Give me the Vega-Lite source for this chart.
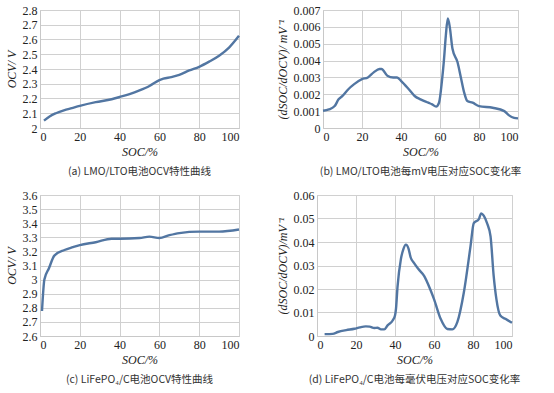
{
  "$schema": "https://vega.github.io/schema/vega-lite/v6.json",
  "background": "white",
  "padding": {"left": 4, "top": 3, "right": 6, "bottom": 4},
  "datasets": {
    "a": [
      {"soc": 2, "v": 2.05}, {"soc": 5, "v": 2.08}, {"soc": 8, "v": 2.1}, {"soc": 12, "v": 2.12},
      {"soc": 16, "v": 2.135}, {"soc": 20, "v": 2.15}, {"soc": 28, "v": 2.175}, {"soc": 36, "v": 2.195},
      {"soc": 40, "v": 2.21}, {"soc": 45, "v": 2.23}, {"soc": 50, "v": 2.255}, {"soc": 55, "v": 2.285},
      {"soc": 60, "v": 2.325}, {"soc": 62, "v": 2.335}, {"soc": 66, "v": 2.345}, {"soc": 70, "v": 2.36},
      {"soc": 75, "v": 2.39}, {"soc": 80, "v": 2.415}, {"soc": 85, "v": 2.45}, {"soc": 90, "v": 2.49},
      {"soc": 95, "v": 2.545}, {"soc": 100, "v": 2.625}
    ],
    "b": [
      {"soc": 0, "r": 0.00102}, {"soc": 3, "r": 0.0011}, {"soc": 6, "r": 0.0013}, {"soc": 8, "r": 0.0017},
      {"soc": 10, "r": 0.0019}, {"soc": 13, "r": 0.0023}, {"soc": 16, "r": 0.0026}, {"soc": 20, "r": 0.0029},
      {"soc": 23, "r": 0.003}, {"soc": 26, "r": 0.0033}, {"soc": 29, "r": 0.0035}, {"soc": 30, "r": 0.0035},
      {"soc": 33, "r": 0.0031}, {"soc": 36, "r": 0.003}, {"soc": 38, "r": 0.003}, {"soc": 40, "r": 0.0028},
      {"soc": 44, "r": 0.0023}, {"soc": 47, "r": 0.0019}, {"soc": 50, "r": 0.0017}, {"soc": 54, "r": 0.0015},
      {"soc": 56, "r": 0.0014}, {"soc": 58, "r": 0.00127}, {"soc": 59.5, "r": 0.0015}, {"soc": 61, "r": 0.0028},
      {"soc": 62, "r": 0.004}, {"soc": 63, "r": 0.0055}, {"soc": 64, "r": 0.0065}, {"soc": 65, "r": 0.006},
      {"soc": 66.4, "r": 0.0047}, {"soc": 69, "r": 0.0039}, {"soc": 70.7, "r": 0.003}, {"soc": 72.4, "r": 0.0021},
      {"soc": 74, "r": 0.0016}, {"soc": 76.7, "r": 0.0015}, {"soc": 80, "r": 0.0013}, {"soc": 87, "r": 0.0012},
      {"soc": 93, "r": 0.001}, {"soc": 95.4, "r": 0.00075}, {"soc": 98, "r": 0.0006}, {"soc": 100, "r": 0.00057}
    ],
    "c": [
      {"soc": 1, "v": 2.777}, {"soc": 2.2, "v": 3.0}, {"soc": 4.5, "v": 3.08}, {"soc": 7.2, "v": 3.17},
      {"soc": 12.3, "v": 3.21}, {"soc": 16.5, "v": 3.23}, {"soc": 20, "v": 3.245}, {"soc": 28, "v": 3.265},
      {"soc": 36, "v": 3.29}, {"soc": 40, "v": 3.29}, {"soc": 50, "v": 3.295}, {"soc": 55, "v": 3.305},
      {"soc": 60, "v": 3.295}, {"soc": 65, "v": 3.315}, {"soc": 70, "v": 3.33}, {"soc": 80, "v": 3.34},
      {"soc": 90, "v": 3.34}, {"soc": 100, "v": 3.355}
    ],
    "d": [
      {"soc": 3.9, "r": 0.0008}, {"soc": 8, "r": 0.0009}, {"soc": 10.7, "r": 0.0017}, {"soc": 15, "r": 0.0025},
      {"soc": 19.2, "r": 0.0031}, {"soc": 22, "r": 0.0037}, {"soc": 25, "r": 0.0041}, {"soc": 27, "r": 0.004},
      {"soc": 29.4, "r": 0.0034}, {"soc": 31, "r": 0.0035}, {"soc": 32.8, "r": 0.0028}, {"soc": 34.5, "r": 0.0028},
      {"soc": 36.2, "r": 0.0045}, {"soc": 38.8, "r": 0.0066}, {"soc": 40, "r": 0.0087}, {"soc": 40.5, "r": 0.0115},
      {"soc": 41.3, "r": 0.021}, {"soc": 43, "r": 0.0326}, {"soc": 44.3, "r": 0.037}, {"soc": 45.6, "r": 0.0389},
      {"soc": 47, "r": 0.037}, {"soc": 48, "r": 0.0335}, {"soc": 49.8, "r": 0.031}, {"soc": 52, "r": 0.0285},
      {"soc": 55, "r": 0.0255}, {"soc": 58, "r": 0.02}, {"soc": 60, "r": 0.0157}, {"soc": 63.4, "r": 0.0073},
      {"soc": 66.8, "r": 0.003}, {"soc": 69.4, "r": 0.0028}, {"soc": 72, "r": 0.006}, {"soc": 75.3, "r": 0.0185},
      {"soc": 78.7, "r": 0.038}, {"soc": 80.4, "r": 0.048}, {"soc": 83, "r": 0.0497}, {"soc": 84.2, "r": 0.0522},
      {"soc": 85.5, "r": 0.0512}, {"soc": 87.2, "r": 0.048}, {"soc": 89, "r": 0.0424}, {"soc": 90.6, "r": 0.0256},
      {"soc": 92, "r": 0.0157}, {"soc": 94, "r": 0.0087}, {"soc": 96.6, "r": 0.0073}, {"soc": 100, "r": 0.0056}
    ]
  },
  "config": {
    "font": "Liberation Serif",
    "view": {"stroke": "#d0d0d0"},
    "axis": {
      "labelFont": "Liberation Serif", "labelFontSize": 12, "labelColor": "#222",
      "titleFont": "Liberation Serif", "titleFontSize": 12, "titleFontStyle": "italic", "titleFontWeight": "normal", "titleColor": "#222",
      "domainColor": "#c8c8c8", "gridColor": "#d0d0d0", "ticks": false, "labelPadding": 3
    },
    "axisX": {"labelFont": "Liberation Serif"},
    "axisY": {"labelFont": "Liberation Serif"},
    "line": {"color": "#5276a2", "strokeWidth": 2.4},
    "title": {"font": "Noto Sans CJK SC", "fontSize": 10.5, "fontWeight": "normal", "color": "#333", "orient": "bottom", "offset": 10}
  },
  "vconcat": [
    {
      "spacing": 30,
      "hconcat": [
        {
          "title": "(a) LMO/LTO电池OCV特性曲线",
          "width": 199, "height": 118,
          "data": {"name": "a"},
          "mark": {"type": "line", "interpolate": "monotone"},
          "encoding": {
            "x": {"field": "soc", "type": "quantitative", "scale": {"domain": [0, 100]}, "axis": {"labelFont": "Liberation Serif", "values": [0, 20, 40, 60, 80, 100], "title": "SOC/%"}},
            "y": {"field": "v", "type": "quantitative", "scale": {"domain": [2, 2.8], "zero": false}, "axis": {"labelFont": "Liberation Serif", "values": [2, 2.1, 2.2, 2.3, 2.4, 2.5, 2.6, 2.7, 2.8], "format": "~g", "title": "OCV/ V", "titlePadding": 4}}
          }
        },
        {
          "title": "(b) LMO/LTO电池每mV电压对应SOC变化率",
          "width": 195, "height": 118,
          "data": {"name": "b"},
          "mark": {"type": "line", "interpolate": "monotone"},
          "encoding": {
            "x": {"field": "soc", "type": "quantitative", "scale": {"domain": [0, 100]}, "axis": {"labelFont": "Liberation Serif", "values": [0, 20, 40, 60, 80, 100], "title": "SOC/%"}},
            "y": {"field": "r", "type": "quantitative", "scale": {"domain": [0, 0.007]}, "axis": {"labelFont": "Liberation Serif", "values": [0, 0.001, 0.002, 0.003, 0.004, 0.005, 0.006, 0.007], "format": "~g", "title": "(dSOC/dOCV)/ mV⁻¹", "titlePadding": 4}}
          }
        }
      ]
    },
    {
      "spacing": 30,
      "hconcat": [
        {
          "title": "(c) LiFePO₄/C电池OCV特性曲线",
          "width": 199, "height": 141,
          "data": {"name": "c"},
          "mark": {"type": "line", "interpolate": "monotone"},
          "encoding": {
            "x": {"field": "soc", "type": "quantitative", "scale": {"domain": [0, 100]}, "axis": {"labelFont": "Liberation Serif", "values": [0, 20, 40, 60, 80, 100], "title": "SOC/%"}},
            "y": {"field": "v", "type": "quantitative", "scale": {"domain": [2.6, 3.6], "zero": false}, "axis": {"labelFont": "Liberation Serif", "values": [2.6, 2.7, 2.8, 2.9, 3, 3.1, 3.2, 3.3, 3.4, 3.5, 3.6], "format": "~g", "title": "OCV/ V", "titlePadding": 4}}
          }
        },
        {
          "title": "(d) LiFePO₄/C电池每毫伏电压对应SOC变化率",
          "width": 195, "height": 141,
          "data": {"name": "d"},
          "mark": {"type": "line", "interpolate": "monotone"},
          "encoding": {
            "x": {"field": "soc", "type": "quantitative", "scale": {"domain": [0, 100]}, "axis": {"labelFont": "Liberation Serif", "values": [0, 20, 40, 60, 80, 100], "title": "SOC/%"}},
            "y": {"field": "r", "type": "quantitative", "scale": {"domain": [0, 0.06]}, "axis": {"labelFont": "Liberation Serif", "values": [0, 0.01, 0.02, 0.03, 0.04, 0.05, 0.06], "format": "~g", "title": "(dSOC/dOCV)/mV⁻¹", "titlePadding": 4}}
          }
        }
      ]
    }
  ],
  "spacing": 10
}
